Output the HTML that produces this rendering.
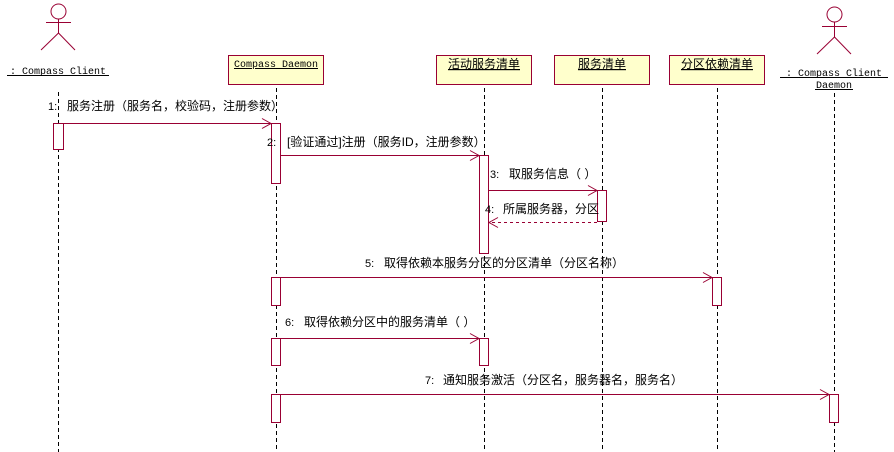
<!DOCTYPE html>
<html>
<head>
<meta charset="utf-8">
<style>
html,body{margin:0;padding:0;background:#fff;}
svg{display:block;}
.mono{font-family:"Liberation Mono","Noto Sans CJK SC",monospace;font-size:10px;fill:#000;}
.cjk{font-family:"Liberation Sans","Noto Sans CJK SC",sans-serif;font-size:12px;fill:#000;}
.num{font-family:"Liberation Sans",sans-serif;font-size:11px;fill:#000;}
</style>
</head>
<body>
<svg width="894" height="452" viewBox="0 0 894 452" xmlns="http://www.w3.org/2000/svg">
<g stroke="#990033" fill="none" stroke-width="1">
  <!-- Actor 1 -->
  <circle cx="58.5" cy="11.5" r="7.5"/>
  <line x1="46" y1="22.5" x2="71" y2="22.5"/>
  <line x1="58.5" y1="19" x2="58.5" y2="33"/>
  <line x1="58.5" y1="33" x2="41" y2="50"/>
  <line x1="58.5" y1="33" x2="75" y2="50"/>
  <!-- Actor 2 -->
  <circle cx="834.5" cy="14.5" r="7.5"/>
  <line x1="822" y1="26.5" x2="847" y2="26.5"/>
  <line x1="834.5" y1="22" x2="834.5" y2="37"/>
  <line x1="834.5" y1="37" x2="817" y2="54"/>
  <line x1="834.5" y1="37" x2="851" y2="54"/>
</g>

<!-- Object boxes -->
<g stroke="#990033" fill="#ffffcc" stroke-width="1">
  <rect x="228.5" y="55.5" width="95" height="29"/>
  <rect x="436.5" y="55.5" width="95" height="29"/>
  <rect x="554.5" y="55.5" width="95" height="29"/>
  <rect x="669.5" y="55.5" width="95" height="29"/>
</g>

<!-- Lifelines -->
<g stroke="#000" stroke-width="1" stroke-dasharray="4,3">
  <line x1="58.5" y1="92" x2="58.5" y2="452"/>
  <line x1="276.5" y1="88" x2="276.5" y2="452"/>
  <line x1="484.5" y1="88" x2="484.5" y2="452"/>
  <line x1="602.5" y1="88" x2="602.5" y2="452"/>
  <line x1="717.5" y1="88" x2="717.5" y2="452"/>
  <line x1="834.5" y1="93" x2="834.5" y2="452"/>
</g>

<!-- Activation boxes -->
<g stroke="#990033" fill="#fff" stroke-width="1">
  <rect x="53.5" y="123.5" width="10" height="26"/>
  <rect x="271.5" y="123.5" width="9" height="60"/>
  <rect x="479.5" y="155.5" width="9" height="98"/>
  <rect x="597.5" y="190.5" width="9" height="31"/>
  <rect x="271.5" y="277.5" width="9" height="28"/>
  <rect x="712.5" y="277.5" width="9" height="28"/>
  <rect x="271.5" y="338.5" width="9" height="27"/>
  <rect x="479.5" y="338.5" width="9" height="27"/>
  <rect x="271.5" y="394.5" width="9" height="28"/>
  <rect x="829.5" y="394.5" width="9" height="28"/>
</g>

<!-- Messages -->
<g stroke="#990033" fill="none" stroke-width="1">
  <line x1="63" y1="123.5" x2="271" y2="123.5"/>
  <polyline points="262,118.5 271,123.5 262,128.5"/>
  <line x1="281" y1="155.5" x2="479" y2="155.5"/>
  <polyline points="470,150.5 479,155.5 470,160.5"/>
  <line x1="489" y1="190.5" x2="597" y2="190.5"/>
  <polyline points="588,185.5 597,190.5 588,195.5"/>
  <line x1="597" y1="222.5" x2="489" y2="222.5" stroke-dasharray="3,3"/>
  <polyline points="498,217.5 489,222.5 498,227.5"/>
  <line x1="281" y1="277.5" x2="712" y2="277.5"/>
  <polyline points="703,272.5 712,277.5 703,282.5"/>
  <line x1="281" y1="338.5" x2="479" y2="338.5"/>
  <polyline points="470,333.5 479,338.5 470,343.5"/>
  <line x1="281" y1="394.5" x2="829" y2="394.5"/>
  <polyline points="820,389.5 829,394.5 820,399.5"/>
</g>

<!-- Underlines -->
<g stroke="#000" stroke-width="1">
  <line x1="7" y1="75.5" x2="109" y2="75.5"/>
  <line x1="780" y1="77.5" x2="888" y2="77.5"/>
  <line x1="815" y1="89.5" x2="853" y2="89.5"/>
</g>

<!-- Labels -->
<text class="mono" x="58" y="74" text-anchor="middle" text-decoration="underline"> : Compass Client</text>
<text class="mono" x="276" y="67" text-anchor="middle" text-decoration="underline">Compass Daemon</text>
<text class="cjk" x="484" y="68" text-anchor="middle" text-decoration="underline">活动服务清单</text>
<text class="cjk" x="602" y="68" text-anchor="middle" text-decoration="underline">服务清单</text>
<text class="cjk" x="717" y="68" text-anchor="middle" text-decoration="underline">分区依赖清单</text>
<text class="mono" x="834" y="76" text-anchor="middle"> : Compass Client</text>
<text class="mono" x="834" y="88" text-anchor="middle">Daemon</text>

<text class="num" x="48" y="110">1:</text>
<text class="cjk" x="67" y="110">服务注册（服务名，校验码，注册参数）</text>

<text class="num" x="267" y="146">2:</text>
<text class="cjk" x="287" y="146">[验证通过]注册（服务ID，注册参数）</text>

<text class="num" x="490" y="178">3:</text>
<text class="cjk" x="509" y="178">取服务信息（ ）</text>

<text class="num" x="485" y="213">4:</text>
<text class="cjk" x="503" y="213">所属服务器，分区</text>

<text class="num" x="365" y="267">5:</text>
<text class="cjk" x="384" y="267">取得依赖本服务分区的分区清单（分区名称）</text>

<text class="num" x="285" y="326">6:</text>
<text class="cjk" x="304" y="326">取得依赖分区中的服务清单（ ）</text>

<text class="num" x="425" y="384">7:</text>
<text class="cjk" x="443" y="384">通知服务激活（分区名，服务器名，服务名）</text>
</svg>
</body>
</html>
